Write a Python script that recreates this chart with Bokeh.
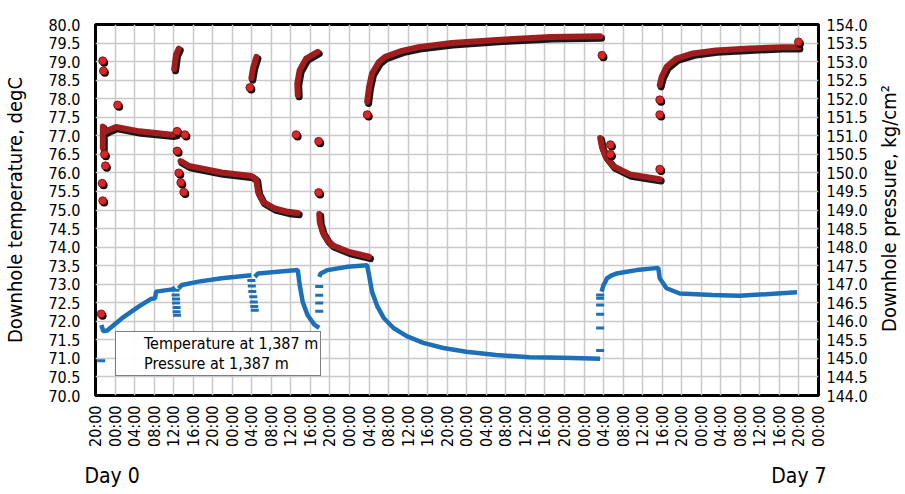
import math
from bokeh.plotting import figure
from bokeh.layouts import row
from bokeh.models import (Range1d, LinearAxis, FixedTicker, Legend, Label,
                          LegendItem, NumeralTickFormatter)
from bokeh.embed import file_html
from bokeh.resources import INLINE

FONT = "'DejaVu Sans Condensed', 'Liberation Sans Narrow', sans-serif"
BLUE = "#1d70b8"
BAND = "#a11d1d"
DOT = "#d9262a"

# x: hours after Day 0 20:00
x_ticks = list(range(0, 149, 4))
x_tick_labels = ["20:00",
                 "00:00", "04:00", "08:00", "12:00", "16:00", "20:00",
                 "00:00", "04:00", "08:00", "12:00", "16:00", "20:00",
                 "00:00", "04:00", "08:00", "12:00", "16:00", "20:00",
                 "00:00", "04:00", "08:00", "12:00", "16:00", "20:00",
                 "00:00", "04:00", "08:00", "12:00", "16:00", "20:00",
                 "00:00", "04:00", "08:00", "12:00", "16:00", "20:00",
                 "00:00"]
day_labels = ["Day 0", "Day 7"]
day_label_hours = [3.4, 144.0]
temp_ticks = [70.0, 70.5, 71.0, 71.5, 72.0, 72.5, 73.0, 73.5, 74.0, 74.5, 75.0,
              75.5, 76.0, 76.5, 77.0, 77.5, 78.0, 78.5, 79.0, 79.5, 80.0]
pres_ticks = [144.0, 144.5, 145.0, 145.5, 146.0, 146.5, 147.0, 147.5, 148.0, 148.5, 149.0,
              149.5, 150.0, 150.5, 151.0, 151.5, 152.0, 152.5, 153.0, 153.5, 154.0]

# Temperature at 1,387 m (degC) - continuous stretches
temp_seg1_h = [1.2, 1.6, 2.4, 5.5, 8.9, 11.3, 12.2, 12.4, 15.7, 16.3]
temp_seg1_c = [71.90, 71.73, 71.75, 72.09, 72.40, 72.60, 72.62, 72.80, 72.86, 72.91]
temp_seg2_h = [17.0, 17.7, 21.1, 25.8, 31.9]
temp_seg2_c = [72.89, 72.98, 73.07, 73.16, 73.24]
temp_seg3_h = [32.6, 33.3, 36.7, 41.4, 41.8, 42.4, 43.4, 44.8, 45.8]
temp_seg3_c = [73.20, 73.29, 73.33, 73.38, 72.98, 72.53, 72.17, 71.91, 71.82]
temp_seg4_h = [45.8, 46.1, 47.5, 51.6, 55.6, 56.0, 56.6, 57.7, 59.0, 61.0, 63.7,
               67.1, 71.2, 75.9, 82.0, 88.8, 95.6, 103.3]
temp_seg4_c = [73.20, 73.29, 73.38, 73.47, 73.51, 73.24, 72.80, 72.40, 72.09, 71.82, 71.60,
               71.42, 71.28, 71.18, 71.09, 71.03, 71.02, 70.99]
temp_seg5_h = [103.6, 104.0, 104.4, 104.7, 105.7, 106.7, 108.4, 110.8, 115.2, 115.5,
               116.9, 119.6, 126.3, 131.8, 137.2, 143.6]
temp_seg5_c = [72.80, 72.98, 73.07, 73.16, 73.24, 73.29, 73.33, 73.38, 73.44, 73.16,
               72.89, 72.75, 72.71, 72.69, 72.73, 72.78]
# Temperature - sparse readings (drawn as dashes)
temp_dash_h = [1.16,
               16.4, 16.4, 16.5, 16.5, 16.6, 16.6, 16.7,
               31.9, 32.0, 32.1, 32.3, 32.4, 32.5, 32.6,
               45.8, 45.8, 45.8, 45.8,
               103.3, 103.3, 103.3, 103.3, 103.3, 103.3]
temp_dash_c = [70.94,
               72.84, 72.71, 72.60, 72.49, 72.37, 72.26, 72.16,
               73.10, 72.95, 72.80, 72.66, 72.52, 72.40, 72.30,
               72.94, 72.70, 72.49, 72.27,
               71.21, 71.82, 72.19, 72.44, 72.62, 72.71]

# Pressure at 1,387 m (kg/cm2) - dense stretches
pres_seg1_h = [1.5, 1.5, 1.9, 2.6, 4.2, 9.0, 15.7, 16.4]
pres_seg1_p = [150.68, 151.25, 151.10, 151.15, 151.24, 151.12, 151.03, 151.05]
pres_seg2_h = [16.1, 16.5, 17.05]
pres_seg2_p = [152.80, 153.20, 153.35]
pres_seg3_h = [17.4, 19.1, 25.8, 31.9, 32.9, 33.3, 34.3, 36.7, 39.4, 41.4]
pres_seg3_p = [150.32, 150.19, 150.01, 149.92, 149.83, 149.47, 149.22, 149.04, 148.95, 148.92]
pres_seg4_h = [31.9, 32.3, 32.95]
pres_seg4_p = [152.55, 152.86, 153.13]
pres_seg5_h = [41.4, 41.3, 41.8, 43.1, 45.5]
pres_seg5_p = [152.10, 152.41, 152.77, 153.08, 153.26]
pres_seg6_h = [45.8, 45.9, 46.5, 47.5, 48.5, 51.9, 56.0]
pres_seg6_p = [148.89, 148.67, 148.40, 148.18, 148.05, 147.87, 147.74]
pres_seg7_h = [55.6, 56.0, 56.6, 58.0, 59.3, 62.7, 66.1, 72.9, 83.0, 93.2, 103.3]
pres_seg7_p = [151.92, 152.32, 152.68, 152.99, 153.13, 153.29, 153.39, 153.50, 153.59, 153.66, 153.68]
pres_seg8_h = [103.3, 103.7, 104.4, 106.0, 109.4, 115.5]
pres_seg8_p = [150.94, 150.68, 150.45, 150.18, 149.96, 149.83]
pres_seg9_h = [115.5, 115.9, 116.9, 118.9, 122.3, 127.0, 133.8, 140.5, 143.9]
pres_seg9_p = [152.37, 152.59, 152.86, 153.08, 153.22, 153.30, 153.35, 153.39, 153.39]
# Pressure - sparse readings
pres_pt_h = [1.48, 1.62, 4.53, 1.83, 2.03, 1.36, 1.48, 1.16, 16.7, 17.05, 17.46, 18.07,
             18.3, 16.7, 31.6, 41.07, 45.68, 45.68, 55.62, 103.67, 105.4, 105.4,
             115.5, 115.5, 115.5, 143.9]
pres_pt_p = [153.02, 152.75, 151.83, 150.50, 150.19, 149.72, 149.25, 146.20, 150.59, 150.00,
             149.74, 149.48, 151.03, 151.12, 152.30, 151.03, 150.85, 149.47, 151.57, 153.17,
             150.76, 150.50, 150.10, 151.97, 151.57, 153.53]

temp_segments = [(temp_seg1_h, temp_seg1_c), (temp_seg2_h, temp_seg2_c), (temp_seg3_h, temp_seg3_c),
                 (temp_seg4_h, temp_seg4_c), (temp_seg5_h, temp_seg5_c)]
pres_segments = [(pres_seg1_h, pres_seg1_p), (pres_seg2_h, pres_seg2_p), (pres_seg3_h, pres_seg3_p),
                 (pres_seg4_h, pres_seg4_p), (pres_seg5_h, pres_seg5_p), (pres_seg6_h, pres_seg6_p),
                 (pres_seg7_h, pres_seg7_p), (pres_seg8_h, pres_seg8_p), (pres_seg9_h, pres_seg9_p)]

p = figure(width=870, height=490, output_backend="svg", toolbar_location=None,
           x_range=Range1d(0, 148), y_range=Range1d(70, 80),
           min_border_left=91, min_border_right=50, min_border_top=24, min_border_bottom=93)
p.extra_y_ranges = {"pressure": Range1d(144, 154), "pshadow": Range1d(144.05, 154.05)}
p.extra_x_ranges = {"shadow": Range1d(-0.3, 147.7)}

p.outline_line_color = "black"
p.outline_line_width = 3
p.background_fill_color = "white"
p.border_fill_color = "white"

xt = FixedTicker(ticks=x_ticks)
yt = FixedTicker(ticks=temp_ticks)
p.xaxis.ticker = xt
p.yaxis.ticker = yt
p.xgrid.ticker = xt
p.ygrid.ticker = yt
for g in (p.xgrid, p.ygrid):
    g.grid_line_color = "#c9c9c9"
    g.grid_line_width = 1.5

p.xaxis.major_label_overrides = {t: lab for t, lab in zip(x_ticks, x_tick_labels)}
p.xaxis.major_label_orientation = math.pi / 2
p.xaxis.major_label_standoff = 10
p.yaxis.formatter = NumeralTickFormatter(format="0.0")
p.yaxis.major_label_standoff = 15
p.yaxis.axis_label = "Downhole temperature, degC"
p.yaxis.axis_label_standoff = 18

right = LinearAxis(y_range_name="pressure", ticker=FixedTicker(ticks=pres_ticks),
                   formatter=NumeralTickFormatter(format="0.0"))
right.major_label_standoff = 8
p.add_layout(right, "right")

day_axis = LinearAxis(ticker=FixedTicker(ticks=day_label_hours),
                      major_label_overrides={h: s for h, s in zip(day_label_hours, day_labels)})
day_axis.major_label_standoff = 14
p.add_layout(day_axis, "below")

for ax in (p.xaxis[0], p.yaxis[0], right, day_axis):
    ax.axis_line_color = None
    ax.major_tick_line_color = None
    ax.minor_tick_line_color = None
    ax.major_tick_out = 0
    ax.major_tick_in = 0
    ax.minor_tick_out = 0
    ax.minor_tick_in = 0
    ax.major_label_text_font = FONT
    ax.major_label_text_font_size = "16px"
    ax.major_label_text_color = "black"
    ax.axis_label_text_font = FONT
    ax.axis_label_text_font_size = "20px"
    ax.axis_label_text_font_style = "normal"
    ax.axis_label_text_color = "black"
day_axis.major_label_text_font_size = "21px"

# temperature
for h, c in temp_segments:
    p.line(h, c, line_color=BLUE, line_width=4.5)
p.scatter(temp_dash_h, temp_dash_c, marker="dash", size=8, line_color=BLUE, line_width=3)

# pressure (shadow + colour)
for h, pr in pres_segments:
    p.line(h, pr, x_range_name="shadow", y_range_name="pshadow",
           line_color="black", line_width=7, line_alpha=0.9, line_cap="round", line_join="round")
for h, pr in pres_segments:
    p.line(h, pr, y_range_name="pressure", line_color=BAND, line_width=6,
           line_cap="round", line_join="round")
p.scatter(pres_pt_h, pres_pt_p, x_range_name="shadow", y_range_name="pshadow",
          marker="circle", size=8, fill_color="black", line_color=None)
p.scatter(pres_pt_h, pres_pt_p, y_range_name="pressure", marker="circle", size=8,
          fill_color=DOT, line_color="#6b0d0d", line_width=0.8)

# legend-only glyphs
leg_t = p.scatter([], [], marker="dash", size=12, line_color=BLUE, line_width=3.5)
leg_p = p.scatter([], [], marker="circle", size=9, fill_color="#e41e26", line_color=None)
legend = Legend(items=[LegendItem(label="Temperature at 1,387 m", renderers=[leg_t]),
                       LegendItem(label="Pressure at 1,387 m", renderers=[leg_p])],
                location=(20, 19), border_line_color="black", border_line_width=1.5,
                label_text_font=FONT, label_text_font_size="16px", label_text_color="black",
                glyph_width=20, glyph_height=14, label_height=19, spacing=1, padding=2,
                margin=0, label_standoff=6)
p.add_layout(legend, "center")

# right-hand axis title (reads bottom to top, as on the left); its frame is aligned
# with the main plot frame by the row layout
t = figure(width=33, height=490, output_backend="svg", toolbar_location=None,
           x_range=Range1d(0, 1), y_range=Range1d(0, 1), x_axis_type=None, y_axis_type=None,
           min_border_left=0, min_border_right=0, min_border_top=0, min_border_bottom=0)
t.outline_line_color = None
t.grid.visible = False
t.background_fill_color = "white"
t.border_fill_color = "white"
t.add_layout(Label(x=18, y=187, x_units="screen", y_units="screen",
                   text="Downhole pressure, kg/cm²", angle=math.pi / 2,
                   text_font=FONT, text_font_size="20px", text_align="center",
                   text_baseline="middle", text_color="black"))

layout = row(p, t)
open("out.html", "w").write(file_html(layout, INLINE))
